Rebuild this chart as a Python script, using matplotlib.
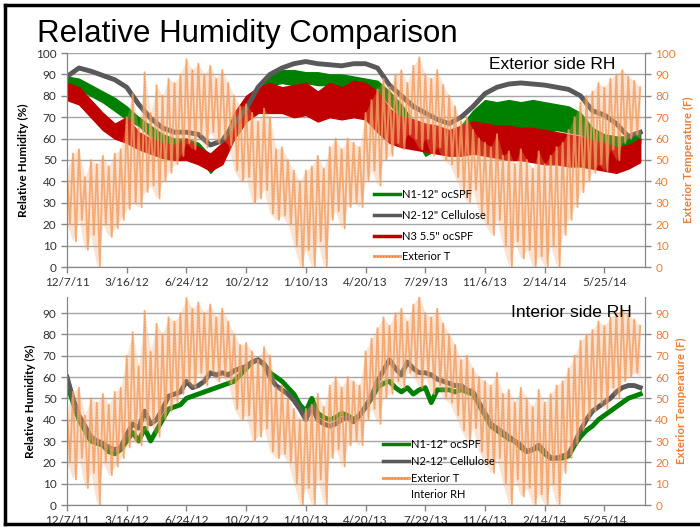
import numpy as np
import matplotlib
matplotlib.use("Agg")
import matplotlib.pyplot as plt
from matplotlib.lines import Line2D

# x axis: days since 12/7/11, labels every 100 days
tick_days = [0, 100, 200, 300, 400, 500, 600, 700, 800, 900]
tick_labels = ["12/7/11", "3/16/12", "6/24/12", "10/2/12", "1/10/13",
               "4/20/13", "7/29/13", "11/6/13", "2/14/14", "5/25/14"]

# exterior side RH, every 20 days (day 0 .. 960)
ext_days = list(range(0, 961, 20))
n2_ext = [89, 93, 91.5, 89.5, 87.5, 84, 76, 69.5, 65, 63, 63, 62, 57, 59, 67, 74, 84, 90,
          93, 95, 96, 95, 94.5, 94, 95, 95, 93, 85, 80, 75, 72, 69, 67, 70, 75, 81,
          84, 85.5, 86, 85.5, 85, 84, 83, 80, 73, 71, 67, 61, 63]
n1_ext_lo = [84, 83, 80, 77, 73, 69, 66, 61, 57, 55, 54, 52, 44, 50, 60, 68, 78, 85,
             86, 85, 86, 85, 85, 84, 84, 83, 82, 76, 70, 62, 52, 55, 56, 60, 66, 67,
             65, 64, 65, 64, 63, 64, 63, 62, 59, 57, 56, 56, 58]
n1_ext_hi = [89, 88, 85, 82, 79, 75, 70, 66, 62, 60, 60, 58, 52, 57, 66, 75, 84, 90,
             92, 92, 91, 91, 90, 90, 89, 88, 87, 82, 76, 68, 58, 60, 61, 66, 73, 78,
             77, 78, 77, 78, 77, 76, 75, 72, 65, 62, 61, 61, 63]
n3_ext_lo = [78, 76, 70, 64, 60, 58, 55, 53, 51, 50, 50, 48, 45, 48, 60, 68, 72, 72,
             72, 70, 71, 68, 70, 69, 70, 69, 63, 58, 56, 55, 54, 53, 52, 52, 53, 52,
             51, 50, 50, 49, 48, 48, 47, 47, 46, 45, 44, 46, 49]
n3_ext_hi = [86, 84, 78, 72, 67, 70, 63, 60, 58, 57, 60, 56, 53, 58, 72, 80, 84, 86,
             84, 85, 86, 82, 86, 84, 87, 86, 82, 74, 70, 69, 67, 66, 64, 66, 68, 67,
             66, 66, 65, 65, 64, 63, 62, 61, 59, 58, 56, 57, 60]

# interior side RH, every 10 days (day 0 .. 960)
int_days = list(range(0, 961, 10))
n2_int = [60, 50, 42, 37, 32, 30, 29, 27, 26, 27, 33, 38, 36, 44, 38, 40, 45, 51, 52, 53,
          58, 55, 56, 58, 62, 61, 62, 61, 63, 64, 65, 67, 68, 66, 60, 56, 54, 52, 49, 45,
          40, 46, 40, 38, 37, 38, 40, 41, 39, 42, 46, 51, 58, 63, 68, 64, 61, 67, 64, 62,
          62, 61, 59, 58, 57, 56, 56, 54, 53, 48, 43, 38, 36, 34, 32, 30, 28, 25, 26, 28,
          25, 22, 22, 23, 24, 29, 35, 40, 44, 46, 48, 50, 53, 55, 56, 56, 55]
n1_int = [57, 48, 40, 35, 30, 29, 28, 25, 24, 26, 30, 34, 30, 36, 30, 35, 40, 45, 46, 47,
          50, 51, 52, 53, 54, 55, 56, 57, 58, 61, 64, 67, 68, 66, 62, 60, 58, 55, 52, 47,
          44, 50, 43, 41, 40, 41, 43, 42, 40, 42, 46, 50, 55, 57, 58, 55, 53, 55, 52, 54,
          55, 48, 54, 54, 54, 53, 54, 53, 52, 47, 42, 37, 35, 33, 31, 30, 27, 25, 26, 27,
          24, 22, 22, 22, 23, 28, 32, 35, 37, 40, 42, 44, 46, 48, 50, 51, 52]

# exterior temperature (F): daily swing high / low, every 10 days
temp_hi = [45, 53, 55, 42, 50, 48, 52, 47, 53, 55, 70, 81, 65, 91, 72, 85, 80, 88, 86, 90,
           97, 92, 95, 90, 94, 88, 92, 86, 80, 75, 76, 72, 68, 74, 70, 55, 56, 50, 45, 40,
           45, 47, 52, 46, 56, 60, 55, 60, 58, 56, 72, 78, 83, 88, 84, 90, 92, 86, 94, 98,
           90, 88, 92, 85, 80, 75, 68, 70, 64, 60, 58, 56, 62, 52, 54, 48, 55, 50, 46, 54,
           48, 52, 56, 58, 64, 70, 77, 80, 82, 86, 84, 88, 90, 92, 89, 87, 84]
temp_lo = [20, 12, 22, 8, 15, 0, 20, 14, 18, 22, 27, 30, 28, 35, 38, 32, 40, 44, 48, 52,
           58, 55, 62, 56, 63, 58, 60, 57, 45, 40, 42, 30, 32, 36, 25, 22, 24, 20, 10, 0,
           8, 0, 12, 0, 22, 26, 18, 28, 30, 28, 40, 45, 38, 50, 52, 58, 55, 62, 60, 55,
           60, 52, 56, 50, 48, 42, 35, 30, 36, 25, 20, 15, 22, 10, 0, 12, 4, 8, 0, 5,
           0, 10, 0, 15, 22, 28, 35, 40, 44, 48, 45, 55, 50, 58, 60, 62, 60]

green = "#008000"
grey = "#595959"
red = "#C00000"
tcol = "#F4A46A"
tdark = "#E46C0A"
orange_txt = "#ED7D31"
gridc = "#A6A6A6"

# zigzag temperature line: high at day d, low at day d+5
td = np.array(int_days, dtype=float)
temp_x = np.column_stack([td, td + 5]).ravel()[:-1]
temp_y = np.column_stack([temp_hi, temp_lo]).ravel()[:-1]

fig = plt.figure(figsize=(7, 5.28), dpi=100)

# slide frame
fig.add_artist(Line2D([5 / 700, 5 / 700], [4 / 528, 1 - 5 / 528], color="black", lw=2.5))
fig.add_artist(Line2D([5 / 700, 1], [1 - 5 / 528, 1 - 5 / 528], color="black", lw=2.5))
fig.add_artist(Line2D([5 / 700, 1], [4 / 528, 4 / 528], color="black", lw=2.5))

fig.text(37 / 700, 1 - 42 / 528, "Relative Humidity Comparison", fontsize=22.5,
         family="Liberation Sans", va="baseline")


def style_axes(ax, ax2, ymax, yticks):
    ax.set_xlim(0, 968)
    ax.set_ylim(0, ymax)
    ax2.set_ylim(0, ymax)
    ax.set_yticks(yticks)
    ax2.set_yticks(yticks)
    ax.set_xticks(tick_days)
    ax.set_xticklabels(tick_labels)
    ax.grid(axis="y", color=gridc, lw=1)
    ax.set_axisbelow(True)
    for a in (ax, ax2):
        a.spines["top"].set_visible(False)
        for s in ("left", "right", "bottom"):
            a.spines[s].set_color("#868686")
    ax.tick_params(axis="both", labelsize=8.5, colors="#868686", labelcolor="#303030",
                   length=4, width=1)
    ax2.tick_params(axis="y", labelsize=8.5, colors="#868686", labelcolor=orange_txt,
                    length=4, width=1)
    for lab in ax.get_xticklabels() + ax.get_yticklabels() + ax2.get_yticklabels():
        lab.set_family("Lato")
    ax.set_ylabel("Relative Humidity (%)", fontsize=8.5, fontweight="bold", family="Lato",
                  labelpad=5)
    ax2.set_ylabel("Exterior Temperature (F)", fontsize=8.3, fontweight="bold",
                   family="Lato", color=orange_txt, labelpad=5)


def draw_temp(ax):
    ax.fill_between(td, temp_lo, temp_hi, color=tcol, alpha=0.3, lw=0)
    ax.plot(temp_x, temp_y, color=tcol, lw=1.4, alpha=0.8)
    ax.plot(temp_x, temp_y, color=tdark, lw=0.5, alpha=0.5, ls=(0, (1, 3)))


t_handle = (Line2D([], [], color=tcol, lw=2.2),
            Line2D([], [], color=tdark, lw=0.7, ls=(0, (1, 2))))

# ---- top panel: exterior side
ax1 = fig.add_axes([67 / 700, 1 - 267 / 528, 578 / 700, 214 / 528])
ax1r = ax1.twinx()
ax1.fill_between(ext_days, n1_ext_lo, n1_ext_hi, color=green, lw=1)
ax1.plot(ext_days, n2_ext, color=grey, lw=3.5)
ax1.fill_between(ext_days, n3_ext_lo, n3_ext_hi, color=red, lw=1)
draw_temp(ax1r)
style_axes(ax1, ax1r, 100, range(0, 101, 10))
ax1r.text(615 / 700, 1 - 69 / 528, "Exterior side RH", transform=fig.transFigure,
          ha="right", va="baseline", fontsize=12.5, family="Liberation Sans")

h1 = [Line2D([], [], color=green, lw=2.5), Line2D([], [], color=grey, lw=2.5),
      Line2D([], [], color=red, lw=2.5), t_handle]
ax1r.legend(h1, ['N1-12" ocSPF', 'N2-12" Cellulose', 'N3 5.5" ocSPF', "Exterior T"],
            loc="upper left", bbox_to_anchor=(374 / 700, 1 - 189 / 528),
            bbox_transform=fig.transFigure, frameon=False,
            handlelength=2.3, handletextpad=0.25, labelspacing=0.88,
            borderpad=0, borderaxespad=0, prop={"family": "Lato", "size": 8})

# ---- bottom panel: interior side
ax2 = fig.add_axes([67 / 700, 1 - 505 / 528, 578 / 700, 208 / 528])
ax2r = ax2.twinx()
ax2.plot(int_days, n1_int, color=green, lw=3.5)
ax2.plot(int_days, n2_int, color=grey, lw=3.5)
draw_temp(ax2r)
style_axes(ax2, ax2r, 97.5, range(0, 91, 10))
ax2r.text(632 / 700, 1 - 317 / 528, "Interior side RH", transform=fig.transFigure,
          ha="right", va="baseline", fontsize=12.5, family="Liberation Sans")

h2 = [Line2D([], [], color=green, lw=2.5), Line2D([], [], color=grey, lw=2.5),
      t_handle, Line2D([], [], color="none")]
ax2r.legend(h2, ['N1-12" ocSPF', 'N2-12" Cellulose', "Exterior T", "Interior RH"],
            loc="upper left", bbox_to_anchor=(383 / 700, 1 - 439 / 528),
            bbox_transform=fig.transFigure, frameon=False,
            handlelength=2.3, handletextpad=0.2, labelspacing=0.52,
            borderpad=0, borderaxespad=0, prop={"family": "Lato", "size": 8})

fig.savefig("out.png", dpi=100)
